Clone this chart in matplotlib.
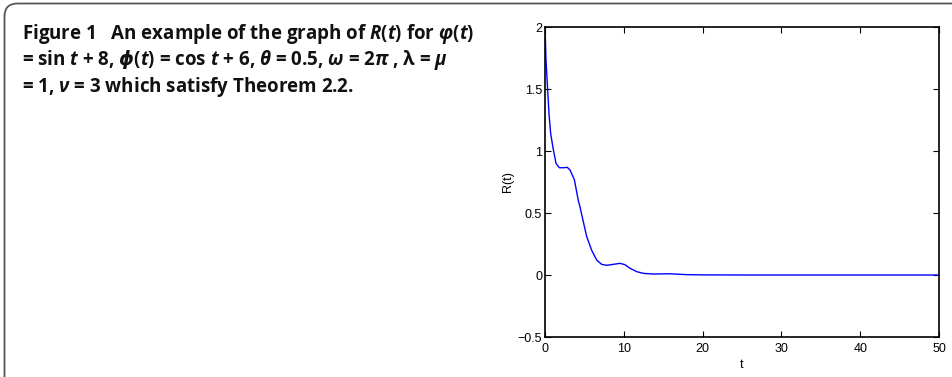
import matplotlib
matplotlib.use("Agg")
import matplotlib.pyplot as plt
from matplotlib.patches import FancyBboxPatch

# values
t = [0, 0.13, 0.34, 0.51, 0.72, 1.06, 1.40, 1.82, 2.33, 2.83, 3.17, 3.72,
     4.23, 4.44, 4.86, 5.29, 5.92, 6.56, 7.19, 7.83, 8.67, 9.52, 10.15,
     10.79, 11.64, 12.5, 13.7, 15.8, 17.9, 20, 25, 30, 40, 50]
R = [2.0, 1.73, 1.49, 1.30, 1.14, 1.01, 0.90, 0.865, 0.865, 0.868, 0.847, 0.77,
     0.60, 0.55, 0.43, 0.31, 0.20, 0.12, 0.086, 0.078, 0.086, 0.094, 0.083,
     0.054, 0.027, 0.013, 0.008, 0.01, 0.003, 0.001, 0.0, 0.0, 0.0, 0.0]
xticks = [0, 10, 20, 30, 40, 50]
yticks = [-0.5, 0, 0.5, 1, 1.5, 2]
yticklabels = ['\u22120.5', '0', '0.5', '1', '1.5', '2']

caption = [
    r"Figure 1   An example of the graph of $R(t)$ for $\varphi(t)$",
    r"= sin $t$ + 8, $\mathsf{\phi}(t)$ = cos $t$ + 6, $\theta$ = 0.5, $\omega$ = 2$\pi$ , λ = $\mu$",
    r"= 1, $\nu$ = 3 which satisfy Theorem 2.2.",
]

plt.rcParams['mathtext.fontset'] = 'custom'
plt.rcParams['mathtext.rm'] = 'Open Sans:bold'
plt.rcParams['mathtext.it'] = 'Open Sans:bold:italic'
plt.rcParams['mathtext.bf'] = 'Open Sans:bold'
plt.rcParams['mathtext.sf'] = 'DejaVu Sans:bold:italic'

W, H = 952, 377
fig = plt.figure(figsize=(W / 100, H / 100), dpi=100)

# rounded frame, cut off at right and bottom
frame = FancyBboxPatch((4.5 / 100, -1), 20, (H - 3.5) / 100 + 1,
                       boxstyle="round,pad=0,rounding_size=0.13",
                       transform=fig.dpi_scale_trans, fill=False,
                       edgecolor='#555555', linewidth=1.3)
fig.patches.append(frame)

baselines = [39, 65.5, 92]
for line, yb in zip(caption, baselines):
    fig.text(22 / W, 1 - yb / H, line, fontsize=13.5, fontweight='bold',
             family='Open Sans', va='baseline', ha='left', color='#111111')

ax = fig.add_axes([545 / W, 40 / H, 394 / W, 310 / H])
ax.plot(t, R, color='#0000ff', linewidth=1.0)
ax.set_xlim(0, 50)
ax.set_ylim(-0.5, 2)
ax.set_xticks(xticks)
ax.set_yticks(yticks)
ax.set_yticklabels(yticklabels)
ax.tick_params(direction='in', top=True, right=True, length=4, width=0.8,
               labelsize=9)
ax.tick_params(axis='x', pad=4)
ax.tick_params(axis='y', pad=2)
for lab in ax.get_xticklabels() + ax.get_yticklabels():
    lab.set_family('Liberation Sans')
for s in ax.spines.values():
    s.set_linewidth(1.2)
ax.set_xlabel('t', fontsize=9, family='Liberation Sans', labelpad=3)
ax.set_ylabel('R(t)', fontsize=9, family='Liberation Sans', labelpad=3)

fig.savefig('out.png', dpi=100)
